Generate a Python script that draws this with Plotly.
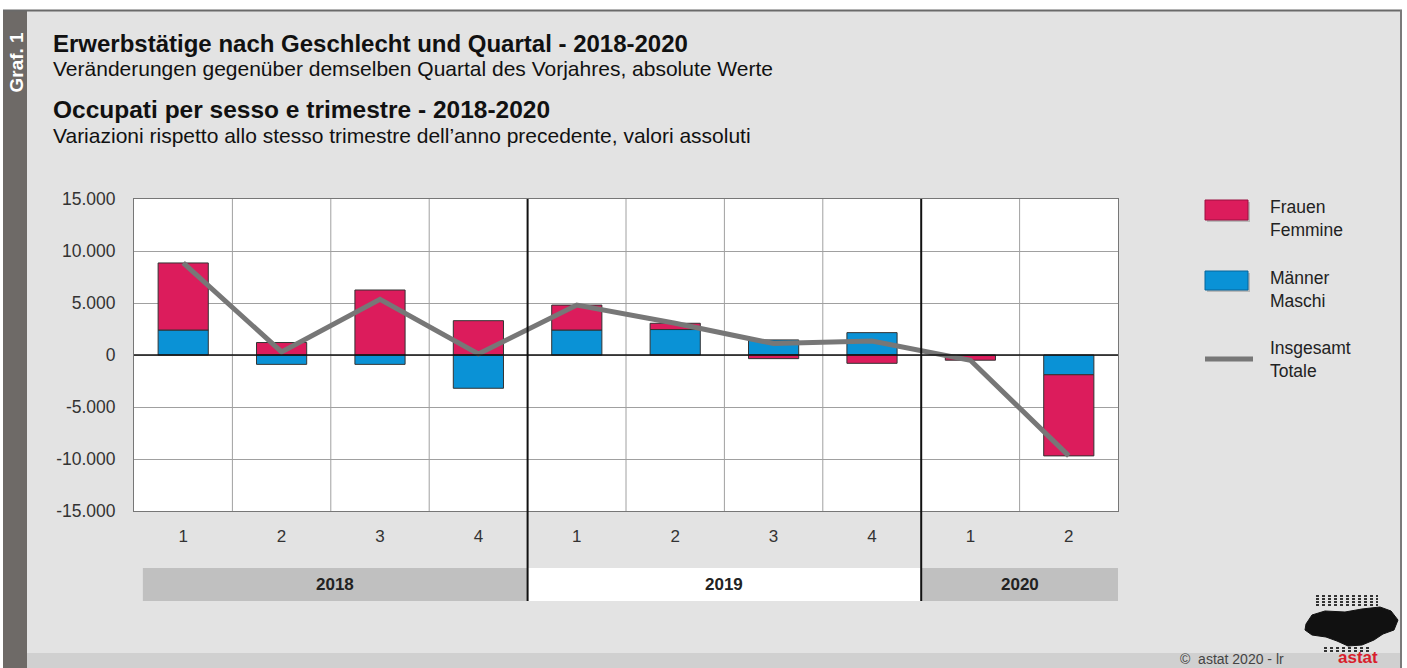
import plotly.graph_objects as go

# ---------------- data ----------------
quarters = ["1", "2", "3", "4", "1", "2", "3", "4", "1", "2"]
years = ["2018", "2019", "2020"]
maenner = [2400, -900, -900, -3200, 2400, 2450, 1450, 2150, -50, -1900]
frauen = [6450, 1200, 6250, 3300, 2400, 600, -350, -800, -450, -7800]
insgesamt = [8850, 300, 5350, 100, 4800, 3050, 1100, 1350, -500, -9700]
y_tickvals = [15000, 10000, 5000, 0, -5000, -10000, -15000]
y_ticktext = ["15.000", "10.000", "5.000", "0", "-5.000", "-10.000", "-15.000"]

# ---------------- geometry ----------------
W, H = 1407, 668
L, R, T, B = 134, 1118, 199, 511
PW, PH = R - L, B - T


def px(x):
    return (x - L) / PW


def py(y):
    return (B - y) / PH


FONT = "Liberation Sans, Arial, sans-serif"
RED = "#dc1c5c"
BLUE = "#0a92d6"
GREY_LINE = "#777777"

xs = list(range(len(quarters)))

fig = go.Figure()
fig.add_trace(go.Bar(x=xs, y=maenner, name="Männer", marker=dict(color=BLUE, line=dict(color="#333333", width=1)),
                     width=0.51, showlegend=False))
fig.add_trace(go.Bar(x=xs, y=frauen, name="Frauen", marker=dict(color=RED, line=dict(color="#333333", width=1)),
                     width=0.51, showlegend=False))
fig.add_trace(go.Scatter(x=xs, y=insgesamt, mode="lines", name="Insgesamt",
                         line=dict(color=GREY_LINE, width=5), showlegend=False))

shapes = []
annotations = []

# white outer margins
shapes.append(dict(type="rect", xref="paper", yref="paper", x0=px(0), x1=px(W), y0=py(0), y1=py(10),
                   fillcolor="white", line=dict(width=0), layer="below"))
shapes.append(dict(type="rect", xref="paper", yref="paper", x0=px(0), x1=px(3), y0=py(0), y1=py(H),
                   fillcolor="white", line=dict(width=0), layer="below"))
shapes.append(dict(type="rect", xref="paper", yref="paper", x0=px(1402), x1=px(W), y0=py(0), y1=py(H),
                   fillcolor="white", line=dict(width=0), layer="below"))
# bottom strip
shapes.append(dict(type="rect", xref="paper", yref="paper", x0=px(27), x1=px(1401), y0=py(653), y1=py(H),
                   fillcolor="#d0d0d0", line=dict(width=0), layer="below"))
# left stripe
shapes.append(dict(type="rect", xref="paper", yref="paper", x0=px(3), x1=px(27), y0=py(10), y1=py(H),
                   fillcolor="#6e6a67", line=dict(width=0), layer="below"))
# top border and right border
shapes.append(dict(type="line", xref="paper", yref="paper", x0=px(3), x1=px(1402), y0=py(10.5), y1=py(10.5),
                   line=dict(color="#6a6a6a", width=2)))
shapes.append(dict(type="line", xref="paper", yref="paper", x0=px(1401), x1=px(1401), y0=py(10), y1=py(H),
                   line=dict(color="#7a7a7a", width=2)))

# vertical grid lines between quarters
for i in range(len(quarters) - 1):
    xb = i + 0.5
    if i in (3, 7):
        continue
    shapes.append(dict(type="line", xref="x", yref="paper", x0=xb, x1=xb, y0=0, y1=1,
                       line=dict(color="#a0a0a0", width=1), layer="below"))

# year bands
bands = [(-0.41, 3.5, "#c0c0c0"), (3.5, 7.5, "#ffffff"), (7.5, 9.5, "#c0c0c0")]
band_centers = [1.545, 5.5, 8.5]
for (x0, x1, col), yr, cx in zip(bands, years, band_centers):
    shapes.append(dict(type="rect", xref="x", yref="paper", x0=x0, x1=x1, y0=py(601), y1=py(568),
                       fillcolor=col, line=dict(width=0), layer="below"))
    annotations.append(dict(xref="x", yref="paper", x=cx, y=py(584.5), text="<b>" + yr + "</b>", showarrow=False,
                            font=dict(family=FONT, size=17, color="#222222"), xanchor="center", yanchor="middle"))

# year separators (black)
for xb in (3.5, 7.5):
    shapes.append(dict(type="line", xref="x", yref="paper", x0=xb, x1=xb, y0=py(601), y1=1,
                       line=dict(color="#111111", width=2)))

# zero line
shapes.append(dict(type="line", xref="paper", yref="y", x0=0, x1=1, y0=0, y1=0,
                   line=dict(color="#111111", width=1.5)))

# legend
leg_x0, leg_x1 = 1205, 1248
shapes.append(dict(type="rect", xref="paper", yref="paper", x0=px(leg_x0 + 2), x1=px(leg_x1 + 2), y0=py(222), y1=py(202),
                   fillcolor="#b8b8b8", line=dict(width=0)))
shapes.append(dict(type="rect", xref="paper", yref="paper", x0=px(leg_x0), x1=px(leg_x1), y0=py(220), y1=py(200),
                   fillcolor=RED, line=dict(color="#9a1040", width=1)))
shapes.append(dict(type="rect", xref="paper", yref="paper", x0=px(leg_x0 + 2), x1=px(leg_x1 + 2), y0=py(292), y1=py(273),
                   fillcolor="#b8b8b8", line=dict(width=0)))
shapes.append(dict(type="rect", xref="paper", yref="paper", x0=px(leg_x0), x1=px(leg_x1), y0=py(290), y1=py(271),
                   fillcolor=BLUE, line=dict(color="#06649a", width=1)))
shapes.append(dict(type="line", xref="paper", yref="paper", x0=px(1205), x1=px(1253), y0=py(359), y1=py(359),
                   line=dict(color=GREY_LINE, width=5)))
for txt, yc in (("Frauen<br>Femmine", 218.5), ("Männer<br>Maschi", 289.5), ("Insgesamt<br>Totale", 359.5)):
    annotations.append(dict(xref="paper", yref="paper", x=px(1268), y=py(yc), text=txt, showarrow=False,
                            align="left", xanchor="left", yanchor="middle",
                            font=dict(family=FONT, size=17.5, color="#222222")))

# titles
titles = [
    ("<b>Erwerbstätige nach Geschlecht und Quartal - 2018-2020</b>", 43, 24),
    ("Veränderungen gegenüber demselben Quartal des Vorjahres, absolute Werte", 68.5, 21),
    ("<b>Occupati per sesso e trimestre - 2018-2020</b>", 110, 24.5),
    ("Variazioni rispetto allo stesso trimestre dell’anno precedente, valori assoluti", 135.5, 21),
]
for txt, yc, sz in titles:
    annotations.append(dict(xref="paper", yref="paper", x=px(51), y=py(yc), text=txt, showarrow=False,
                            xanchor="left", yanchor="middle", font=dict(family=FONT, size=sz, color="#111111")))

# Graf. 1
annotations.append(dict(xref="paper", yref="paper", x=px(15.5), y=py(62), text="<b>Graf. 1</b>", showarrow=False,
                        textangle=-90, xanchor="center", yanchor="middle",
                        font=dict(family=FONT, size=19, color="#ffffff")))

# copyright + logo
annotations.append(dict(xref="paper", yref="paper", x=px(1286), y=py(659), text="©  astat 2020 - lr", showarrow=False,
                        xanchor="right", yanchor="middle", font=dict(family=FONT, size=14, color="#444444")))
annotations.append(dict(xref="paper", yref="paper", x=px(1358), y=py(657.5), text="<b>astat</b>", showarrow=False,
                        xanchor="center", yanchor="middle", font=dict(family=FONT, size=17, color="#d81e2c")))
blob = [(1306, 624), (1312, 615), (1325, 611), (1345, 612), (1362, 609), (1380, 607), (1391, 611), (1398, 620),
        (1394, 630), (1383, 634), (1374, 640), (1362, 645), (1348, 646), (1337, 641), (1326, 637), (1312, 635),
        (1305, 630)]
path = "M " + " L ".join(f"{px(a):.5f},{py(b):.5f}" for a, b in blob) + " Z"
shapes.append(dict(type="path", xref="paper", yref="paper", path=path, fillcolor="#111111",
                   line=dict(color="#111111", width=1)))
for yy in (596, 599, 602, 605):
    shapes.append(dict(type="line", xref="paper", yref="paper", x0=px(1316), x1=px(1378), y0=py(yy), y1=py(yy),
                       line=dict(color="#333333", width=2, dash="dot")))
for yy in (648, 651):
    shapes.append(dict(type="line", xref="paper", yref="paper", x0=px(1324), x1=px(1370), y0=py(yy), y1=py(yy),
                       line=dict(color="#333333", width=2, dash="dot")))

fig.update_layout(
    width=W, height=H,
    margin=dict(l=L, r=W - R, t=T, b=H - B, pad=0),
    paper_bgcolor="#e3e3e3",
    plot_bgcolor="#ffffff",
    barmode="relative",
    bargap=0.49,
    font=dict(family=FONT, size=17, color="#333333"),
    shapes=shapes,
    annotations=annotations,
    showlegend=False,
    xaxis=dict(range=[-0.5, 9.5], tickvals=xs, ticktext=quarters, showgrid=False, zeroline=False,
               showline=True, linecolor="#777777", linewidth=1, mirror=True, ticks="",
               ticklabelstandoff=10, tickfont=dict(family=FONT, size=17, color="#333333"), fixedrange=True),
    yaxis=dict(range=[-15000, 15000], tickvals=y_tickvals, ticktext=y_ticktext, showgrid=True,
               gridcolor="#a0a0a0", gridwidth=1, zeroline=False, showline=True, linecolor="#777777",
               linewidth=1, mirror=True, ticks="", ticklabelstandoff=14,
               tickfont=dict(family=FONT, size=17.5, color="#333333"), fixedrange=True),
)

fig.write_html(
    "out.html",
    config={"displayModeBar": False},
    post_script="document.body.style.margin='0px';document.body.style.overflow='hidden';",
)
